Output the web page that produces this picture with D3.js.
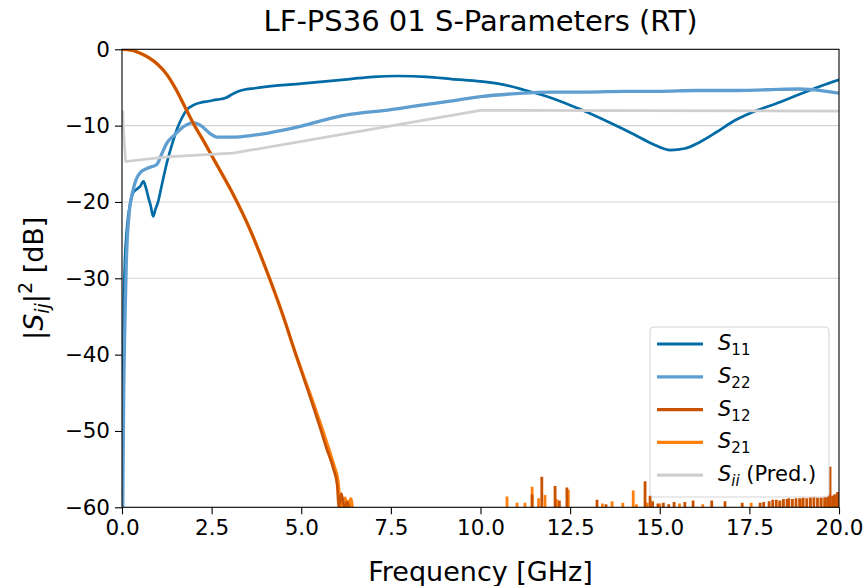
<!DOCTYPE html>
<html>
<head>
<meta charset="utf-8">
<script src="https://cdn.jsdelivr.net/npm/d3@7"></script>
<style>
  body { margin: 0; background: #fff; }
  text { font-family: "DejaVu Sans", sans-serif; }
</style>
</head>
<body>
<div id="chart"></div>
<script>
// data: [frequency GHz, dB]
let s11 = [
    [0.01, -60], [0.03, -45], [0.05, -34], [0.08, -28], [0.12, -24.5], [0.17, -22],
    [0.24, -20], [0.31, -18.8], [0.42, -18.3], [0.5, -18], [0.6, -17.3], [0.67, -18.2],
    [0.73, -19.3], [0.8, -20.5], [0.87, -21.9], [0.93, -21], [1.0, -20.1], [1.1, -18],
    [1.25, -14.9], [1.4, -12.4], [1.53, -10.5], [1.67, -9], [1.81, -7.9], [2.0, -7.3],
    [2.18, -7.0], [2.4, -6.8], [2.65, -6.6], [2.9, -6.35], [3.05, -5.95], [3.2, -5.6],
    [3.4, -5.3], [3.7, -5.1], [4.04, -4.9], [5.0, -4.5], [6.36, -3.9], [7.0, -3.6],
    [7.7, -3.5], [8.5, -3.6], [9.2, -3.9], [10.0, -4.2], [10.6, -4.6], [11.2, -5.3],
    [12.0, -6.4], [12.8, -7.9], [13.6, -9.6], [14.3, -11.2], [14.8, -12.4], [15.3, -13.2],
    [15.7, -13.0], [16.1, -12.2], [16.6, -10.8], [17.1, -9.3], [17.6, -8.2], [18.2, -7.2],
    [18.9, -5.9], [19.5, -4.8], [20.0, -4.0]
];
let s22 = [
    [0.02, -60], [0.05, -44], [0.08, -36], [0.12, -28], [0.2, -21.5], [0.31, -18.4],
    [0.4, -17], [0.5, -16.2], [0.7, -15.6], [0.97, -15.1], [1.1, -13.8], [1.25, -12.3],
    [1.45, -11.3], [1.62, -10.5], [1.8, -9.9], [1.98, -9.6], [2.2, -10], [2.45, -11],
    [2.65, -11.5], [3.1, -11.5], [3.6, -11.3], [4.04, -11.0], [4.5, -10.6], [4.97, -10.1],
    [5.6, -9.3], [6.27, -8.6], [7.5, -7.9], [8.5, -7.2], [9.15, -6.8], [10.0, -6.2],
    [11.0, -5.8], [11.94, -5.6], [13.0, -5.6], [14.0, -5.5], [15.0, -5.5], [16.0, -5.4],
    [17.0, -5.4], [18.0, -5.3], [18.9, -5.2], [19.5, -5.4], [20.0, -5.75]
];
let s12 = [
    [0.0, 0], [0.25, -0.1], [0.5, -0.5], [0.75, -1.1], [1.0, -2.0], [1.25, -3.3],
    [1.5, -5.2], [1.75, -7.5], [2.0, -9.8], [2.25, -11.8], [2.5, -13.9], [2.75, -16.0],
    [3.1, -19.0], [3.57, -23.6], [4.0, -28.6], [4.5, -35], [4.85, -40], [5.1, -43.5],
    [5.3, -46.3], [5.52, -49.5], [5.7, -52.2], [5.9, -55], [6.0, -57], [6.05, -60],
    [6.12, -58.2], [6.2, -60], [6.28, -59.3], [6.33, -60]
];
let s21 = [
    [0.0, 0], [0.25, -0.1], [0.5, -0.5], [0.75, -1.1], [1.0, -2.0], [1.25, -3.3],
    [1.5, -5.2], [1.75, -7.5], [2.0, -9.8], [2.25, -11.8], [2.5, -13.9], [2.75, -16.0],
    [3.1, -19.0], [3.57, -23.6], [4.0, -28.6], [4.5, -35], [4.85, -40], [5.1, -43.3],
    [5.3, -45.9], [5.5, -48.6], [5.72, -51.7], [5.9, -54.4], [6.02, -56.5], [6.1, -60],
    [6.22, -58.8], [6.3, -60], [6.38, -58.9], [6.42, -60]
];
let sPred = [
    [0.02, -8], [0.04, -10.5], [0.1, -14.7], [1.25, -14.1], [3.1, -13.6],
    [10.0, -8.0], [20.0, -8.1]
];
// noise spikes of the transmission above the -60 dB floor
let s12Spikes = [
    [11.44, -58.3], [11.71, -56.0], [12.08, -57.2], [12.2, -59.1], [12.41, -57.4],
    [13.25, -59.0], [13.5, -59.6], [14.59, -56.6], [14.73, -58.5], [14.8, -59.2],
    [14.95, -59.5], [15.1, -59.4], [15.25, -59.6], [15.4, -59.3], [15.7, -59.3],
    [15.93, -59.1], [16.45, -59.1], [16.82, -59.2], [17.3, -59.4], [17.8, -59.4],
    [17.9, -59.3], [18.05, -59.2], [18.15, -59.0], [18.25, -59.0], [18.35, -59.1],
    [18.45, -58.9], [18.55, -58.9], [18.6, -58.8], [18.7, -58.9], [18.8, -58.8],
    [18.9, -58.8], [19.0, -58.7], [19.1, -58.8], [19.2, -58.7], [19.3, -58.6],
    [19.4, -58.7], [19.5, -58.7], [19.6, -58.5], [19.68, -58.6], [19.75, -54.7],
    [19.82, -58.5], [19.88, -58.3], [19.96, -58.0]
];
let s21Spikes = [
    [10.74, -58.6], [11.02, -59.4], [11.24, -59.4], [11.44, -57.3], [11.62, -58.8],
    [11.8, -58.4], [12.12, -58.9], [12.45, -57.7], [13.4, -59.5], [13.67, -59.2],
    [13.97, -59.4], [14.26, -57.8], [14.35, -59.6], [14.65, -59.4], [15.0, -59.5],
    [15.55, -59.5], [16.2, -59.6], [17.55, -59.4], [18.35, -59.2], [18.95, -58.9],
    [19.2, -58.7], [19.5, -58.8], [19.7, -58.6], [19.92, -58.4]
];
let refLines = [-10, -20, -30];
let xTicks = [0, 2.5, 5, 7.5, 10, 12.5, 15, 17.5, 20];
let yTicks = [0, -10, -20, -30, -40, -50, -60];

let width = 865;
let height = 586;
let margin = {top: 49.3, bottom: 78.7, left: 122, right: 26};

let colors = {s11: "#006BA4", s22: "#5F9ED1", s12: "#C85200", s21: "#FF800E", pred: "#CFCFCF"};

let svg = d3.select("#chart")
    .append("svg")
    .attr("width", width)
    .attr("height", height);

let x = d3.scaleLinear()
    .domain([0, 20])
    .range([margin.left, width - margin.right]);

let y = d3.scaleLinear()
    .domain([-60, 0])
    .range([height - margin.bottom, margin.top]);

svg.append("defs").append("clipPath")
    .attr("id", "plot-clip")
    .append("rect")
    .attr("x", x(0))
    .attr("y", y(0))
    .attr("width", x(20) - x(0))
    .attr("height", y(-60) - y(0));

let plot = svg.append("g").attr("clip-path", "url(#plot-clip)");

// horizontal reference lines
plot.selectAll(".ref")
    .data(refLines)
    .join("line")
    .attr("x1", x(0))
    .attr("x2", x(20))
    .attr("y1", d => y(d))
    .attr("y2", d => y(d))
    .attr("stroke", "#d3d3d3")
    .attr("stroke-width", 1.1);

let smooth = d3.line()
    .curve(d3.curveMonotoneX)
    .x(d => x(d[0]))
    .y(d => y(Math.max(d[1], -61)));

let straight = d3.line()
    .x(d => x(d[0]))
    .y(d => y(d[1]));

function drawLine(data, color, w, gen) {
    plot.append("path")
        .datum(data)
        .attr("d", gen || smooth)
        .attr("fill", "none")
        .attr("stroke", color)
        .attr("stroke-width", w)
        .attr("stroke-linejoin", "round");
}

function drawSpikes(data, color) {
    plot.append("g")
        .selectAll("line")
        .data(data)
        .join("line")
        .attr("x1", d => x(d[0]))
        .attr("x2", d => x(d[0]))
        .attr("y1", y(-61))
        .attr("y2", d => y(d[1]))
        .attr("stroke", color)
        .attr("stroke-width", 2.8);
}

drawLine(s11, colors.s11, 2.7);
drawLine(s22, colors.s22, 3.3);
drawLine(s21, colors.s21, 3.4);
drawSpikes(s21Spikes, colors.s21);
drawLine(s12, colors.s12, 2.7);
drawSpikes(s12Spikes, colors.s12);
drawLine(sPred, colors.pred, 2.7, straight);

// axes
let xAxis = svg.append("g")
    .attr("transform", `translate(0, ${y(-60)})`)
    .call(d3.axisBottom(x).tickValues(xTicks).tickFormat(d3.format(".1f")).tickSize(7).tickPadding(5));

let yAxis = svg.append("g")
    .attr("transform", `translate(${x(0)}, 0)`)
    .call(d3.axisLeft(y).tickValues(yTicks).tickFormat(d => d === 0 ? "0" : "\u2212" + Math.abs(d)).tickSize(7).tickPadding(5));

[xAxis, yAxis].forEach(g => {
    g.select(".domain").remove();
    g.selectAll(".tick line").attr("stroke", "#000").attr("stroke-width", 1.1);
    g.selectAll(".tick text")
        .attr("font-family", "DejaVu Sans")
        .attr("font-size", "21.5px")
        .attr("fill", "#000");
});

// frame
svg.append("rect")
    .attr("x", x(0))
    .attr("y", y(0))
    .attr("width", x(20) - x(0))
    .attr("height", y(-60) - y(0))
    .attr("fill", "none")
    .attr("stroke", "#000")
    .attr("stroke-width", 1.1);

// title and labels
svg.append("text")
    .attr("x", (x(0) + x(20)) / 2)
    .attr("y", 31)
    .attr("text-anchor", "middle")
    .attr("font-size", "29px")
    .text("LF-PS36 01 S-Parameters (RT)");

svg.append("text")
    .attr("x", (x(0) + x(20)) / 2)
    .attr("y", 581)
    .attr("text-anchor", "middle")
    .attr("font-size", "27px")
    .text("Frequency [GHz]");

let ylab = svg.append("text")
    .attr("transform", `translate(43, ${(y(0) + y(-60)) / 2}) rotate(-90)`)
    .attr("text-anchor", "middle")
    .attr("font-size", "27px");
ylab.append("tspan").text("|");
ylab.append("tspan").attr("font-style", "italic").text("S");
ylab.append("tspan").attr("font-style", "italic").attr("font-size", "19px").attr("dy", 6).text("ij");
ylab.append("tspan").attr("dy", -6).text("|");
ylab.append("tspan").attr("font-size", "19px").attr("dy", -11).text("2");
ylab.append("tspan").attr("dy", 11).text(" [dB]");

// legend
let legendItems = [
    {name: "S", sub: "11", extra: "", color: colors.s11},
    {name: "S", sub: "22", extra: "", color: colors.s22},
    {name: "S", sub: "12", extra: "", color: colors.s12},
    {name: "S", sub: "21", extra: "", color: colors.s21},
    {name: "S", sub: "ii", extra: " (Pred.)", color: colors.pred}
];

let legend = svg.append("g").attr("transform", "translate(650, 327)");
legend.append("rect")
    .attr("width", 179)
    .attr("height", 170)
    .attr("rx", 4)
    .attr("fill", "#fff")
    .attr("fill-opacity", 0.8)
    .attr("stroke", "#d6d6d6")
    .attr("stroke-width", 1.1);

let rows = legend.selectAll(".item")
    .data(legendItems)
    .join("g")
    .attr("transform", (d, i) => `translate(0, ${17 + i * 32.8})`);

rows.append("line")
    .attr("x1", 7)
    .attr("x2", 53)
    .attr("stroke", d => d.color)
    .attr("stroke-width", 3.2);

let labels = rows.append("text")
    .attr("x", 68)
    .attr("y", 6)
    .attr("font-size", "21px");
labels.append("tspan").attr("font-style", "italic").text(d => d.name);
labels.append("tspan")
    .attr("font-size", "15px")
    .attr("dy", 5)
    .attr("font-style", d => d.sub === "ii" ? "italic" : "normal")
    .text(d => d.sub);
labels.append("tspan")
    .attr("dy", -5)
    .text(d => d.extra);
</script>
</body>
</html>
